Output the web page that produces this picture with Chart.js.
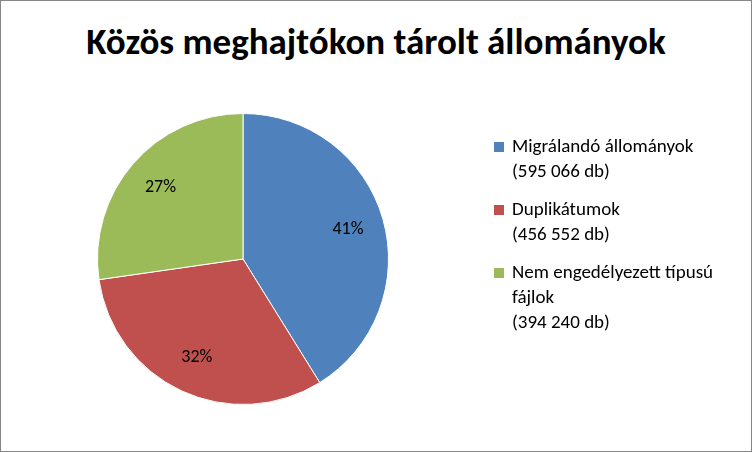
<!DOCTYPE html>
<html><head><meta charset="utf-8">
<script src="https://cdn.jsdelivr.net/npm/chart.js@4"></script>
<style>
body{margin:0;background:#fff;}
#wrap{position:relative;width:750px;height:450px;border:1px solid #868686;font-family:Carlito,"Liberation Sans",sans-serif;}
#title{position:absolute;left:0;width:750px;top:18px;text-align:center;font-weight:bold;font-size:37px;color:#000;}
#legend{position:absolute;left:493px;top:132px;font-size:19px;line-height:25px;color:#000;}
.it{position:relative;padding-left:18px;margin-bottom:13px;}
.sw{position:absolute;left:0;top:9px;width:10px;height:10px;}
canvas{position:absolute;left:0;top:0;}
</style></head><body>
<div id="wrap"><div id="title">Közös meghajtókon tárolt állományok</div>
<canvas id="c" width="750" height="450"></canvas><div id="legend"></div></div>
<script>
const categories=["Migrálandó állományok","Duplikátumok","Nem engedélyezett típusú fájlok"];
const legendLines=[["Migrálandó állományok","(595 066 db)"],["Duplikátumok","(456 552 db)"],["Nem engedélyezett típusú","fájlok","(394 240 db)"]];
const values=[595066,456552,394240];
const colors=["#4f81bd","#c0504d","#9bbb59"];
const lg=document.getElementById('legend');
legendLines.forEach((l,i)=>{lg.innerHTML+=`<div class="it"><span class="sw" style="background:${colors[i]}"></span>${l.join('<br>')}</div>`;});
const pct={id:'pct',afterDatasetsDraw(ch){const ctx=ch.ctx;const m=ch.getDatasetMeta(0);const tot=values.reduce((a,b)=>a+b);
ctx.save();ctx.font='18px Carlito, "Liberation Sans", sans-serif';ctx.fillStyle='#000';ctx.textAlign='center';ctx.textBaseline='middle';
m.data.forEach((a,i)=>{const ang=(a.startAngle+a.endAngle)/2;const r=a.outerRadius*0.75;ctx.fillText(Math.round(values[i]/tot*100)+'%',a.x+Math.cos(ang)*r,a.y+Math.sin(ang)*r);});ctx.restore();}};
new Chart(document.getElementById('c'),{type:'pie',data:{labels:categories,datasets:[{data:values,backgroundColor:colors,borderColor:'#fff',borderWidth:1}]},
options:{responsive:false,animation:false,layout:{padding:{left:96,right:362,top:112,bottom:46}},plugins:{legend:{display:false},tooltip:{enabled:false}}},plugins:[pct]});
</script></body></html>
